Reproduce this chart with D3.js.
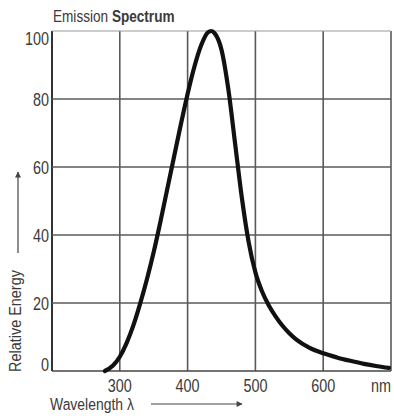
<!DOCTYPE html>
<html lang="en">
<head>
    <meta charset="UTF-8">
    <title>Emission Spectrum</title>
    <script src="https://d3js.org/d3.v7.min.js"></script>
    <style>
        body { margin: 0; background: #fff; }
        text {
            font-family: 'Liberation Sans', Arial, sans-serif;
            fill: #3a3a3a;
        }
    </style>
</head>
<body>
<script>

    const width  = 394;
    const height = 416;

    // wavelength (nm) vs relative energy
    const wavelength = [278, 290, 300, 310, 320, 330, 340, 350, 360, 370, 380, 390, 400, 410, 420, 430, 435, 440, 450, 460, 470, 480, 490, 500, 510, 520, 530, 540, 550, 560, 580, 600, 620, 640, 660, 680, 697];
    const energy     = [0, 1.6, 4.2, 8.2, 13.4, 19.8, 27, 35, 44, 53.5, 63, 72.5, 81.5, 89.5, 95.8, 99.6, 100, 99.3, 94.5, 83, 67, 51, 38, 29, 23.3, 19.2, 16, 13.3, 11.1, 9.3, 6.8, 5.2, 4, 3, 2.1, 1.4, 0.9];

    const xTicks = [200, 300, 400, 500, 600, 700];
    const xLabels = ['', '300', '400', '500', '600', 'nm'];
    const yTicks = [0, 20, 40, 60, 80, 100];

    const data = wavelength.map((w, i) => ({w: w, e: energy[i]}));

    const x = d3.scaleLinear().domain([200, 700]).range([52, 391]);
    const y = d3.scaleLinear().domain([0, 100]).range([371, 31]);

    const svg = d3.select("body")
            .append("svg")
            .attr("width", width)
            .attr("height", height);

    // narrow text: squeeze horizontally
    function label(g, tx, ty, str, size, anchor, sx) {
        return g.append("text")
                .attr("transform", "translate(" + [tx, ty] + ") scale(" + sx + ",1)")
                .attr("text-anchor", anchor)
                .style("font-size", size + "px")
                .text(str);
    }

    // grid
    svg.append("g")
            .selectAll("line")
            .data(xTicks)
            .enter()
            .append("line")
            .attr("x1", d => x(d)).attr("x2", d => x(d))
            .attr("y1", y(100)).attr("y2", y(0))
            .attr("stroke", d => d == 200 ? "#333" : "#5a5a5a")
            .attr("stroke-width", d => d == 200 ? 2 : 1.6);

    svg.append("g")
            .selectAll("line")
            .data(yTicks)
            .enter()
            .append("line")
            .attr("x1", x(200)).attr("x2", x(700))
            .attr("y1", d => y(d)).attr("y2", d => y(d))
            .attr("stroke", d => d == 100 ? "#9a9a9a" : (d == 0 ? "#444" : "#5a5a5a"))
            .attr("stroke-width", d => d == 100 ? 1.2 : 1.6);

    // tick labels
    const yl = svg.append("g");
    yTicks.forEach(d => {
        const dy = d == 100 ? 14 : (d == 0 ? 0 : 6.5);
        label(yl, 49, y(d) + dy, d, 18, "end", 0.8);
    });

    const xl = svg.append("g");
    xTicks.forEach((d, i) => {
        label(xl, i == 5 ? x(d) - 10 : x(d), 392, xLabels[i], 18, "middle", 0.8);
    });

    // curve
    const line = d3.line()
            .x(d => x(d.w))
            .y(d => y(d.e))
            .curve(d3.curveMonotoneX);

    svg.append("path")
            .datum(data)
            .attr("d", line)
            .attr("fill", "none")
            .attr("stroke", "#111")
            .attr("stroke-width", 4.2)
            .attr("stroke-linecap", "round");

    // title
    svg.append("text")
            .attr("transform", "translate(" + [53, 22] + ") scale(0.85,1)")
            .style("font-size", "16px")
            .html('Emission <tspan style="font-weight:bold">Spectrum</tspan>');

    // axis titles with arrows
    svg.append("defs").append("marker")
            .attr("id", "arrow")
            .attr("viewBox", "0 0 10 10")
            .attr("refX", 9).attr("refY", 5)
            .attr("markerWidth", 7).attr("markerHeight", 5)
            .attr("orient", "auto")
            .append("path")
            .attr("d", "M0,0L10,5L0,10Z")
            .attr("fill", "#444");

    label(svg, 50, 410, "Wavelength  λ", 17, "start", 0.82);

    svg.append("line")
            .attr("x1", 151).attr("x2", 242)
            .attr("y1", 404).attr("y2", 404)
            .attr("stroke", "#444")
            .attr("stroke-width", 1.2)
            .attr("marker-end", "url(#arrow)");

    svg.append("text")
            .attr("transform", "translate(" + [21, 372] + ") rotate(-90) scale(0.85,1)")
            .style("font-size", "17px")
            .text("Relative Energy");

    svg.append("line")
            .attr("x1", 18).attr("x2", 18)
            .attr("y1", 253).attr("y2", 172)
            .attr("stroke", "#444")
            .attr("stroke-width", 1.2)
            .attr("marker-end", "url(#arrow)");

</script>
</body>
</html>
